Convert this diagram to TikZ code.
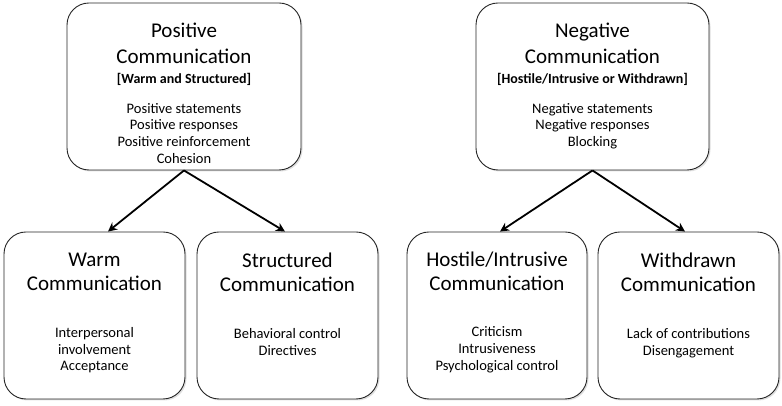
\documentclass[tikz,border=0pt]{standalone}
\usepackage{fontspec}
\setmainfont{Carlito}
\usepackage{xcolor}
\usepackage{tikz}
\usetikzlibrary{positioning,arrows.meta,shadows}
\tikzset{
  round box/.style={
    draw=black!85,
    fill=white,
    line width=0.9pt,
    rounded corners=22pt,
    minimum width={#1},
    minimum height=167pt,
    drop shadow={opacity=0.25, shadow xshift=1.5pt, shadow yshift=-1.5pt},
  },
  box title/.style={
    align=center,
    inner sep=0pt,
    font=\fontsize{21}{26}\selectfont,
  },
  low title/.style={
    box title,
    font=\fontsize{21}{24}\selectfont,
  },
  box tag/.style={
    align=center,
    inner sep=0pt,
    font=\fontsize{14}{16}\selectfont\bfseries,
  },
  box items/.style={
    align=center,
    inner sep=0pt,
    font=\fontsize{14.5}{16.7}\selectfont,
  },
  link/.style={
    line width=1.8pt,
    -{Stealth[length=9pt,width=9pt]},
  }
}

\begin{document}
\begin{tikzpicture}[x=1pt, y=1pt, node distance=0pt]
    \useasboundingbox (0,0) rectangle (782,406);

    % upper boxes
    \node [round box=234pt] (pos) at (184,319.5) {};
    \node [round box=233pt] (neg) at (592.5,319.5) {};

    % lower boxes
    \node [round box=181pt] (warm) at (94.5,90.5) {};
    \node [round box=181pt] (struct) at (287.5,90.5) {};
    \node [round box=180pt] (hostile) at (497,90.5) {};
    \node [round box=181pt] (withdrawn) at (688.5,90.5) {};

    % texts of the upper boxes
    \node [box title, below=20pt of pos.north] (pos title) {Positive\\Communication};
    \node [box tag, below=9pt of pos title] (pos tag) {[Warm and Structured]};
    \node [box items, below=17.5pt of pos tag] (pos items)
      {Positive statements\\Positive responses\\Positive reinforcement\\Cohesion};

    \node [box title, below=20pt of neg.north] (neg title) {Negative\\Communication};
    \node [box tag, below=9pt of neg title] (neg tag) {[Hostile/Intrusive or Withdrawn]};
    \node [box items, below=17.5pt of neg tag] (neg items)
      {Negative statements\\Negative responses\\Blocking};

    % texts of the lower boxes
    \node [low title, below=21.5pt of warm.north] (warm title) {Warm\\Communication};
    \node [box items, below=36pt of warm title] (warm items)
      {Interpersonal\\involvement\\Acceptance};

    \node [low title, below=21.5pt of struct.north] (struct title) {Structured\\Communication};
    \node [box items, below=36pt of struct title] (struct items)
      {Behavioral control\\Directives};

    \node [low title, below=20pt of hostile.north] (hostile title) {Hostile/Intrusive\\Communication};
    \node [box items, below=36pt of hostile title] (hostile items)
      {Criticism\\Intrusiveness\\Psychological control};

    \node [low title, below=21.5pt of withdrawn.north] (withdrawn title) {Withdrawn\\Communication};
    \node [box items, below=36pt of withdrawn title] (withdrawn items)
      {Lack of contributions\\Disengagement};

    % arrows
    \draw [link] (pos.south) -- ([xshift=13.5pt]warm.north);
    \draw [link] (pos.south) -- ([xshift=-2.5pt]struct.north);
    \draw [link] (neg.south) -- ([xshift=3pt]hostile.north);
    \draw [link] (neg.south) -- ([xshift=-3.5pt]withdrawn.north);
\end{tikzpicture}
\end{document}
